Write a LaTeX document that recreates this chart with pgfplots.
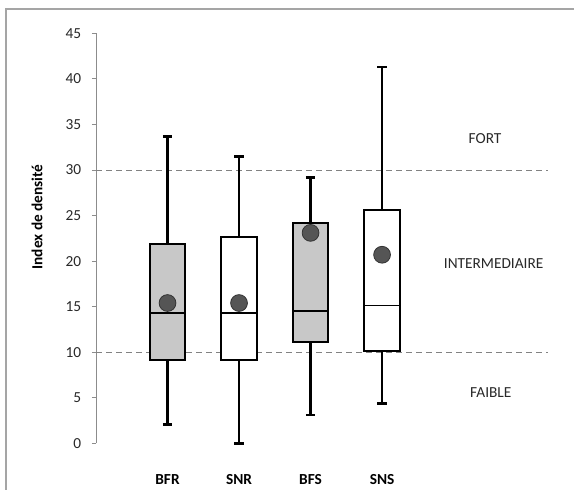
\documentclass[border=0pt]{standalone}
\usepackage{fontspec}
\setmainfont{Carlito}
\usepackage{pgfplots}
\pgfplotsset{compat=1.18}
\definecolor{boxgray}{RGB}{200,200,200}
\definecolor{meangray}{RGB}{85,85,85}
\definecolor{axisgray}{RGB}{140,140,140}
\definecolor{dashgray}{RGB}{130,130,130}
\definecolor{framegray}{RGB}{165,165,165}
\definecolor{ticktext}{RGB}{40,40,40}
\begin{document}
\begin{tikzpicture}
\useasboundingbox (-72pt,-34.3pt) rectangle (358.5pt,332.5pt);
\draw[framegray, line width=0.9pt] (-67.5pt,-40pt) -- (-67.5pt,325.7pt) -- (365pt,325.7pt);
\begin{axis}[
  at={(0pt,0pt)}, anchor=south west,
  scale only axis, width=339pt, height=307.5pt,
  xmin=0, xmax=6.32, ymin=0, ymax=45,
  axis y line*=left, axis x line*=bottom,
  x axis line style={draw=none},
  y axis line style={axisgray, line width=0.6pt},
  ytick={0,5,...,45},
  xtick={1,2,3,4}, xticklabels={BFR,SNR,BFS,SNS},
  x tick style={draw=none}, major x tick style={draw=none},
  y tick style={axisgray, line width=0.6pt},
  major tick length=3pt, tick align=outside,
  font=\fontsize{11.5}{13}\selectfont,
  /pgf/number format/assume math mode=true,
  yticklabel style={anchor=east, inner sep=0pt, xshift=-8pt, text=ticktext},
  xticklabel style={anchor=center, inner sep=0pt, yshift=-24pt, font=\fontsize{11.5}{13}\selectfont\bfseries},
  ylabel={Index de densité},
  ylabel style={at={(axis description cs:-0.1305,0.552)}, anchor=center, font=\fontsize{11.5}{13}\selectfont\bfseries},
  clip=false,
  whisk/.style={draw=black, line width=1.6pt},
  cap/.style={draw=black, line width=2pt},
  bx/.style={draw=black, line width=1.5pt, line join=miter},
  med/.style={draw=black, line width=1.1pt},
]
% reference lines
\addplot[dashgray, line width=0.7pt, dash pattern=on 4.5pt off 3pt] coordinates {(0,10) (6.32,10)};
\addplot[dashgray, line width=0.7pt, dash pattern=on 4.5pt off 3pt] coordinates {(0,30) (6.32,30)};
% BFR: whiskers 2.1 / 33.7, quartiles 9.2 / 21.9, median 14.3
\addplot[whisk] coordinates {(1,2.1) (1,33.7)};
\addplot[cap] coordinates {(0.935,33.7) (1.065,33.7)};
\addplot[cap] coordinates {(0.935,2.1) (1.065,2.1)};
\addplot[bx, fill=boxgray] coordinates {(0.75,9.2) (1.25,9.2) (1.25,21.9) (0.75,21.9)} -- cycle;
\addplot[med] coordinates {(0.75,14.3) (1.25,14.3)};
% SNR: whiskers 0 / 31.5, quartiles 9.2 / 22.6, median 14.3
\addplot[whisk] coordinates {(2,0) (2,31.5)};
\addplot[cap] coordinates {(1.935,31.5) (2.065,31.5)};
\addplot[cap] coordinates {(1.935,0) (2.065,0)};
\addplot[bx, fill=white] coordinates {(1.75,9.2) (2.25,9.2) (2.25,22.6) (1.75,22.6)} -- cycle;
\addplot[med] coordinates {(1.75,14.3) (2.25,14.3)};
% BFS: whiskers 3.1 / 29.2, quartiles 11.1 / 24.2, median 14.5
\addplot[whisk] coordinates {(3,3.1) (3,29.2)};
\addplot[cap] coordinates {(2.935,29.2) (3.065,29.2)};
\addplot[cap] coordinates {(2.935,3.1) (3.065,3.1)};
\addplot[bx, fill=boxgray] coordinates {(2.75,11.1) (3.25,11.1) (3.25,24.2) (2.75,24.2)} -- cycle;
\addplot[med] coordinates {(2.75,14.5) (3.25,14.5)};
% SNS: whiskers 4.4 / 41.3, quartiles 10.1 / 25.6, median 15.1
\addplot[whisk] coordinates {(4,4.4) (4,41.3)};
\addplot[cap] coordinates {(3.935,41.3) (4.065,41.3)};
\addplot[cap] coordinates {(3.935,4.4) (4.065,4.4)};
\addplot[bx, fill=white] coordinates {(3.75,10.1) (4.25,10.1) (4.25,25.6) (3.75,25.6)} -- cycle;
\addplot[med] coordinates {(3.75,15.1) (4.25,15.1)};
% means
\addplot[only marks, mark=*, mark size=6.3pt, mark options={fill=meangray, draw=black!80, line width=0.6pt}] coordinates {(1,15.4) (2,15.4) (3,23.1) (4,20.7)};
\node[font=\fontsize{11.5}{13}\selectfont, text=ticktext] at (axis cs:5.44,33.5) {FORT};
\node[font=\fontsize{11.5}{13}\selectfont, text=ticktext] at (axis cs:5.56,19.7) {INTERMEDIAIRE};
\node[font=\fontsize{11.5}{13}\selectfont, text=ticktext] at (axis cs:5.52,5.55) {FAIBLE};
\end{axis}
\end{tikzpicture}
\end{document}
